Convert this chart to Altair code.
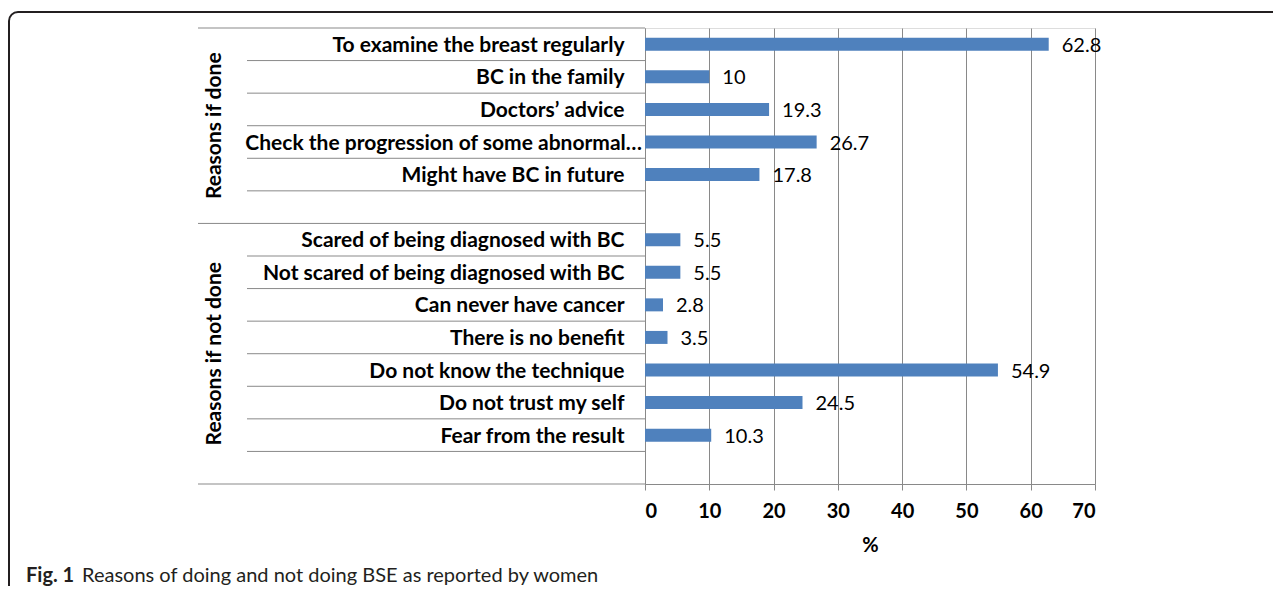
import altair as alt
import pandas as pd

# ---------------- data ----------------
done_labels = [
    "To examine the breast regularly",
    "BC in the family",
    "Doctors’ advice",
    "Check the progression of some abnormal…",
    "Might have BC in future",
]
done_values = [62.8, 10, 19.3, 26.7, 17.8]

notdone_labels = [
    "Scared of being diagnosed with BC",
    "Not scared of being diagnosed with BC",
    "Can never have cancer",
    "There is no benefit",
    "Do not know the technique",
    "Do not trust my self",
    "Fear from the result",
]
notdone_values = [5.5, 5.5, 2.8, 3.5, 54.9, 24.5, 10.3]

group_labels = ["Reasons if done", "Reasons if not done"]
x_ticks = [0, 10, 20, 30, 40, 50, 60, 70]
x_title = "%"
caption_bold = "Fig. 1"
caption_text = "Reasons of doing and not doing BSE as reported by women"

# ---------------- tables ----------------
blank1, blank2 = " ", "  "
rows = done_labels + [blank1] + notdone_labels + [blank2]
values = done_values + [None] + notdone_values + [None]
df = pd.DataFrame({"cat": rows, "val": values})
bars_df = df.dropna().reset_index(drop=True)

truncated = done_labels[3]  # the label that the original drew wider, cut with an ellipsis
trunc_df = pd.DataFrame({"cat": [truncated]})

short_sep = pd.DataFrame({"cat": [r for i, r in enumerate(rows) if i not in (0, 6)]})
long_sep = pd.DataFrame({"cat": [rows[0], rows[6]]})
bottom_sep = pd.DataFrame({"cat": [rows[-1]]})
groups_df = pd.DataFrame({"cat": [rows[3], rows[10]], "g": group_labels})
one = pd.DataFrame({"a": [0]})

FONT = "Lato"
BLUE = "#4F81BD"
GRID = "#898989"
LABEL_SIZE = 21

yscale = alt.Scale(domain=rows, paddingInner=0, paddingOuter=0)
xscale = alt.Scale(domain=[0, 70], nice=False, zero=True)

yaxis = alt.Axis(
    title=None,
    ticks=False,
    grid=False,
    domainColor=GRID,
    labelFont=FONT,
    labelFontSize=LABEL_SIZE,
    labelFontWeight="bold",
    labelColor="#000000",
    labelPadding=21,
    labelOffset=1.5,
    labelLimit=0,
    labelExpr="datum.value == '" + truncated + "' ? '' : datum.label",
)
xaxis = alt.Axis(
    values=x_ticks,
    title=x_title,
    grid=True,
    gridColor=GRID,
    gridWidth=1,
    domainColor=GRID,
    tickColor=GRID,
    tickSize=6,
    labelFont=FONT,
    labelFontSize=20,
    labelFontWeight="bold",
    labelColor="#000000",
    labelPadding=11,
    titleFont=FONT,
    titleFontSize=20,
    titleFontWeight="bold",
    titleColor="#000000",
    titlePadding=14,
)


def ycat(band=0.5):
    return alt.Y("cat:N", scale=yscale, sort=None, bandPosition=band, axis=yaxis)


bars = alt.Chart(bars_df).mark_bar(height=13, color=BLUE).encode(
    x=alt.X("val:Q", scale=xscale, axis=xaxis),
    y=alt.Y("cat:N", scale=yscale, sort=None, axis=yaxis),
)

labels = alt.Chart(bars_df).mark_text(
    align="left", baseline="middle", dx=13, dy=1.5, font=FONT, fontSize=20, color="#000000"
).encode(
    x=alt.X("val:Q", scale=xscale, axis=xaxis),
    y=alt.Y("cat:N", scale=yscale, sort=None, axis=yaxis),
    text=alt.Text("val:Q"),
)

trunc_label = alt.Chart(trunc_df).mark_text(
    align="right", baseline="middle", dy=1.5, font=FONT, fontSize=LABEL_SIZE,
    fontWeight="bold", color="#000000"
).encode(y=ycat(), x=alt.value(-3), text="cat:N")

short_rules = alt.Chart(short_sep).mark_rule(color=GRID, strokeWidth=1).encode(
    y=ycat(0), x=alt.value(-398), x2=alt.value(0)
)
long_rules = alt.Chart(long_sep).mark_rule(color=GRID, strokeWidth=1).encode(
    y=ycat(0), x=alt.value(-447), x2=alt.value(0)
)
bottom_rule = alt.Chart(bottom_sep).mark_rule(color=GRID, strokeWidth=1).encode(
    y=ycat(1), x=alt.value(-447), x2=alt.value(0)
)

group_text = alt.Chart(groups_df).mark_text(
    angle=270, align="center", baseline="middle", font=FONT, fontSize=21,
    fontWeight="bold", color="#000000"
).encode(y=ycat(0), x=alt.value(-430), text="g:N")

frame = alt.Chart(one).mark_rect(
    filled=False, stroke="#231F20", strokeWidth=2, cornerRadius=9
).encode(x=alt.value(-636), y=alt.value(-16), x2=alt.value(700), y2=alt.value(700))

cap1 = alt.Chart(one).mark_text(
    align="left", baseline="alphabetic", font=FONT, fontSize=20, fontWeight="bold", color="#231F20"
).encode(x=alt.value(-619), y=alt.value(553.5), text=alt.value(caption_bold))
cap2 = alt.Chart(one).mark_text(
    align="left", baseline="alphabetic", font=FONT, fontSize=20, color="#231F20"
).encode(x=alt.value(-563), y=alt.value(553.5), text=alt.value(caption_text))

chart = alt.layer(
    frame, short_rules, long_rules, bottom_rule, bars, labels, trunc_label,
    group_text, cap1, cap2
).properties(
    width=450,
    height=456,
    padding={"left": 637, "top": 20, "right": 178, "bottom": 102},
    autosize=alt.AutoSizeParams(type="none"),
).configure_view(stroke=None).configure(background="#ffffff")

chart.save("out.html", embed_options={"renderer": "svg", "actions": False})
